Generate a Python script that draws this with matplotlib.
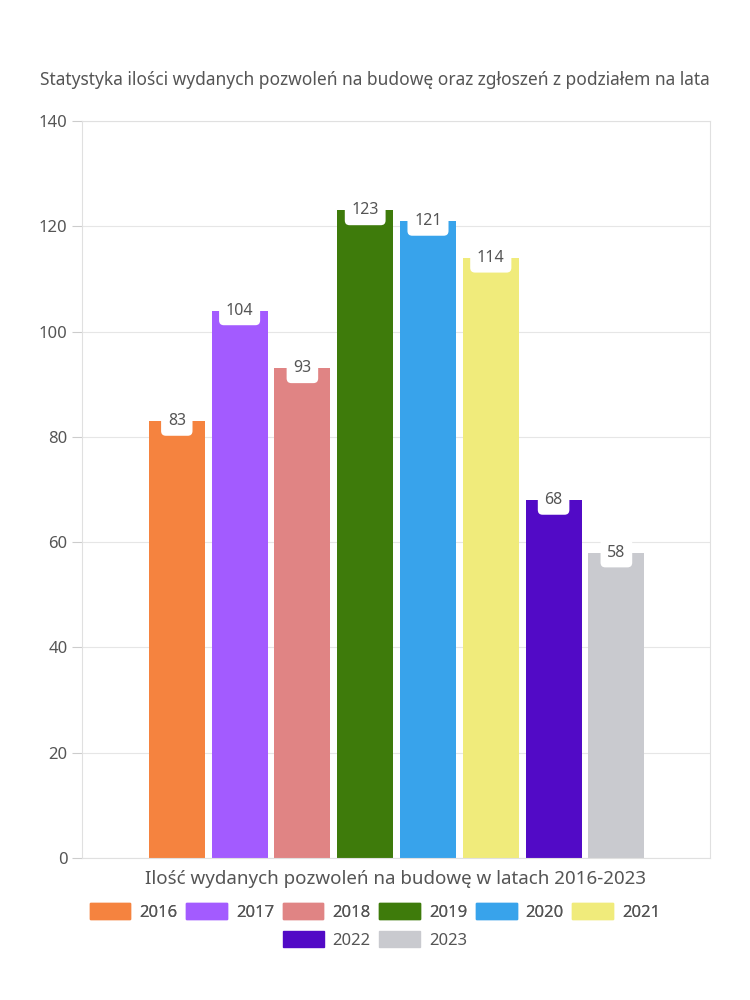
import matplotlib.pyplot as plt
from matplotlib.patches import Patch

years = ['2016', '2017', '2018', '2019', '2020', '2021', '2022', '2023']
values = [83, 104, 93, 123, 121, 114, 68, 58]
colors = ['#F5833F', '#A35BFF', '#E08484', '#3E7B0B', '#38A3EB', '#F0EB7B', '#520AC6', '#C9CACF']
yticks = [0, 20, 40, 60, 80, 100, 120, 140]

plt.rcParams['font.family'] = ['Noto Sans', 'DejaVu Sans']
txt = '#555555'

fig = plt.figure(figsize=(7.5, 10), dpi=100)
ax = fig.add_axes([0.1093, 0.142, 0.8373, 0.737])

x = list(range(len(years)))
bars = ax.bar(x, values, width=0.89, color=colors, zorder=2)

for xi, v in zip(x, values):
    ax.text(xi, v, str(v), ha='center', va='center', fontsize=11.5, color=txt, zorder=3,
            bbox=dict(boxstyle='round,pad=0.42,rounding_size=0.3', fc='white', ec='none'))

ax.set_xlim(-1.51, 8.49)
ax.set_ylim(0, 140)
ax.set_yticks(yticks)
ax.set_xticks([])
ax.tick_params(axis='y', colors='#cccccc', labelcolor=txt, labelsize=12, length=7, width=0.8)
ax.grid(axis='y', color='#e6e6e6', linewidth=0.8, zorder=0)
for s in ax.spines.values():
    s.set_color('#e0e0e0')
    s.set_linewidth(0.8)

ax.set_xlabel('Ilość wydanych pozwoleń na budowę w latach 2016-2023', fontsize=13.5,
              color=txt, labelpad=9)
fig.text(0.5, 0.920, 'Statystyka ilości wydanych pozwoleń na budowę oraz zgłoszeń z podziałem na lata',
         ha='center', va='center', fontsize=12.5, color=txt)

handles = [Patch(color=c, label=y) for c, y in zip(colors, years)]
leg_kw = dict(frameon=False, fontsize=12, handlelength=2.45, handleheight=1.1,
              handletextpad=0.55, columnspacing=0.5, labelcolor=txt)
leg1 = fig.legend(handles=handles[:6], ncol=6, loc='center', bbox_to_anchor=(0.5, 0.088), **leg_kw)
fig.add_artist(leg1)
fig.legend(handles=handles[6:], ncol=2, loc='center', bbox_to_anchor=(0.5, 0.060), **leg_kw)

fig.savefig('out.png', dpi=100, facecolor='white')
